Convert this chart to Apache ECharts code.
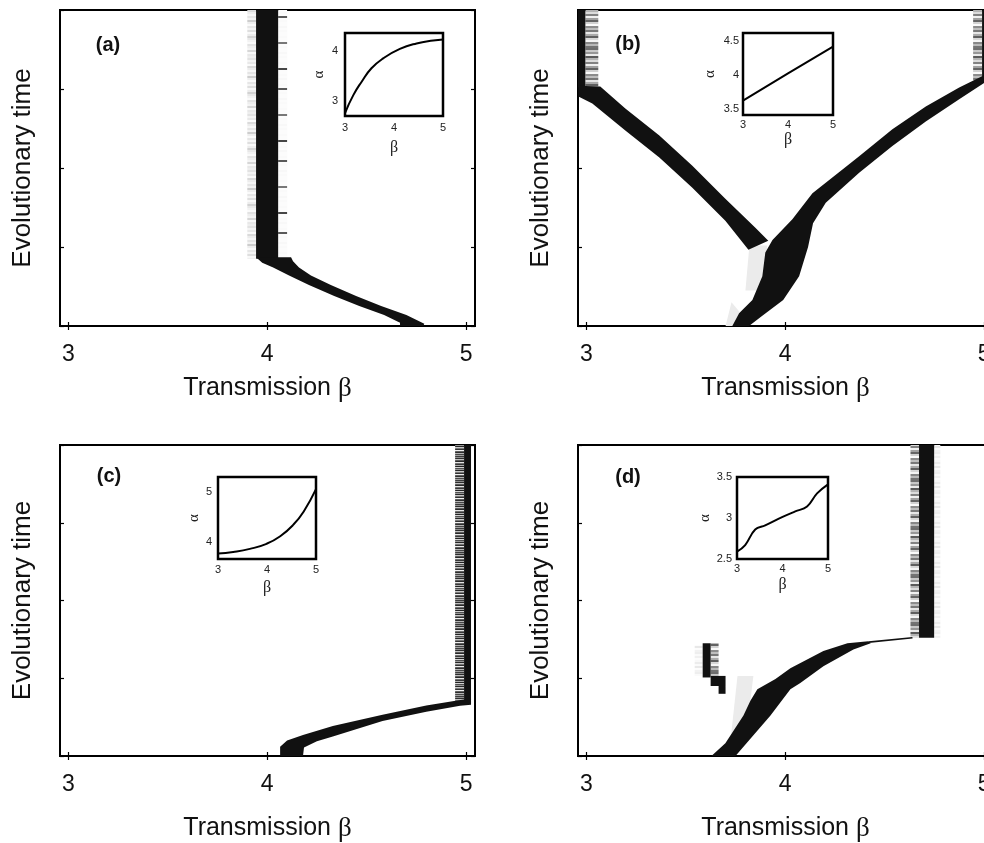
<!DOCTYPE html>
<html><head><meta charset="utf-8">
<script src="https://cdn.jsdelivr.net/npm/echarts@6/dist/echarts.min.js"></script>
<style>html,body{margin:0;padding:0;background:#fff;overflow:hidden}#c{width:1000px;height:843px}</style>
</head><body><div id="c"></div>
<script>
// ================= DATA =================
const xTicks = [3, 4, 5];
const panelLabels = ['(a)', '(b)', '(c)', '(d)'];

// Rects: [betaLeft, betaRight, tStart, tEnd]; fringes add a shade kind
// Panel (a)
const aBlackRects = [[3.944, 4.055, 0.85, 4]];
const aFringes = [[3.90, 3.944, 0.85, 4, 'light'], [4.055, 4.10, 0.85, 4, 'sparse']];
const aBlackPolys = [[[3.944,0.87],[3.975,0.80],[4.03,0.74],[4.11,0.64],[4.21,0.52],[4.337,0.38],[4.463,0.254],[4.588,0.14],[4.668,0.04],[4.668,0],[4.785,0],[4.79,0.03],[4.70,0.14],[4.573,0.254],[4.447,0.38],[4.32,0.52],[4.22,0.64],[4.16,0.74],[4.13,0.82],[4.12,0.87]]];
const aGrayPolys = [];
const aLinks = [];

// Panel (b)
const bBlackRects = [[2.955, 2.995, 3.02, 4], [4.99, 5.05, 3.10, 4]];
const bFringes = [[2.995, 3.06, 3.02, 4, 'medium'], [4.945, 4.99, 3.10, 4, 'medium']];
const bBlackPolys = [
  [[2.96,3.04],[3.07,3.033],[3.196,2.754],[3.367,2.411],[3.533,2.03],[3.699,1.612],[3.85,1.244],[3.915,1.079],[3.815,0.964],[3.699,1.332],[3.533,1.751],[3.367,2.132],[3.196,2.475],[3.03,2.817],[2.96,2.906]],
  [[3.734,0],[3.818,0],[3.88,0.12],[3.99,0.33],[4.07,0.63],[4.115,1.0],[4.14,1.3],[4.204,1.56],[4.372,1.94],[4.539,2.28],[4.707,2.59],[4.875,2.87],[5.002,3.08],[5.05,3.12],[5.05,3.22],[4.99,3.16],[4.875,3.02],[4.707,2.78],[4.539,2.49],[4.372,2.15],[4.288,1.98],[4.137,1.68],[4.036,1.35],[3.936,1.09],[3.90,0.93],[3.885,0.63],[3.835,0.33],[3.768,0.16]]
];
const bGrayPolys = [[[3.80,0.45],[3.89,0.45],[3.91,1.02],[3.82,1.02]], [[3.70,0],[3.74,0],[3.77,0.18],[3.73,0.3]]];
const bLinks = [];

// Panel (c)
const cBlackRects = [[4.99, 5.025, 0.71, 4]];
const cFringes = [[4.945, 4.99, 0.71, 4, 'dense']];
const cBlackPolys = [[[5.025,0.74],[4.955,0.715],[4.80,0.65],[4.58,0.53],[4.33,0.385],[4.18,0.27],[4.10,0.20],[4.065,0.12],[4.065,0],[4.18,0],[4.185,0.11],[4.25,0.19],[4.33,0.25],[4.58,0.45],[4.80,0.57],[4.97,0.645],[5.025,0.66]]];
const cGrayPolys = [];
const cLinks = [];

// Panel (d)
const dBlackRects = [[4.673, 4.749, 1.52, 4], [3.585, 3.625, 1.01, 1.45], [3.625, 3.70, 0.90, 1.03], [3.665, 3.70, 0.80, 0.90]];
const dFringes = [[4.63, 4.673, 1.52, 4, 'medium'], [4.749, 4.78, 1.52, 4, 'faint'], [3.625, 3.665, 1.03, 1.45, 'medium'], [3.545, 3.585, 1.03, 1.42, 'faint']];
const dBlackPolys = [[[3.629,0],[3.699,0.165],[3.79,0.52],[3.825,0.71],[3.86,0.86],[3.951,0.99],[4.026,1.13],[4.192,1.35],[4.313,1.45],[4.418,1.475],[4.43,1.45],[4.343,1.37],[4.192,1.155],[4.076,0.94],[4.026,0.86],[3.926,0.52],[3.75,0]]];
const dGrayPolys = [[[3.725,0.2],[3.80,0.2],[3.84,1.03],[3.76,1.03]]];
const dLinks = [[4.42, 1.465, 4.64, 1.52]];

// Insets: alpha(beta)
const insetABeta = [3, 3.17, 3.34, 3.54, 3.78, 4.12, 4.46, 4.80, 5];
const insetAAlpha = [2.76, 3.12, 3.39, 3.66, 3.86, 4.05, 4.16, 4.22, 4.24];
const insetBBeta = [3, 4, 5];
const insetBAlpha = [3.62, 4.02, 4.41];
const insetCBeta = [3, 3.31, 3.65, 3.99, 4.27, 4.54, 4.75, 5];
const insetCAlpha = [3.78, 3.81, 3.87, 3.97, 4.12, 4.35, 4.61, 5.05];
const insetDBeta = [3, 3.18, 3.40, 3.62, 3.99, 4.28, 4.54, 4.76, 5];
const insetDAlpha = [2.59, 2.67, 2.86, 2.91, 3.01, 3.08, 3.14, 3.30, 3.41];
const insetYTicks = [[3, 4], [3.5, 4, 4.5], [4, 5], [2.5, 3, 3.5]];
const insetYRange = [[2.7, 4.37], [3.41, 4.61], [3.67, 5.29], [2.5, 3.5]];

// ================= STYLE / LAYOUT =================
const FONT = '"Liberation Sans", Arial, Helvetica, sans-serif';
const SERIF = '"Liberation Serif", "Times New Roman", serif';
const mainPos = [[60, 10], [578, 10], [60, 445], [578, 445]];
const insetPos = [[345, 33, 98, 83], [743, 33, 90, 82], [218, 477, 98, 82], [737, 477, 91, 82]];
const insetLab = [
  {xm: 6, xg: 24, ym: 7, yg: 18},
  {xm: 4, xg: 17, ym: 4, yg: 25},
  {xm: 5, xg: 21, ym: 6, yg: 13},
  {xm: 4, xg: 18, ym: 5, yg: 21}
];
const labelPos = [[108, 45], [628, 44], [109, 476], [628, 477]];

function makePattern(rows, rh) {
  const c = document.createElement('canvas');
  c.width = 8; c.height = rows.length * rh;
  const g = c.getContext('2d');
  rows.forEach((v, i) => { g.fillStyle = 'rgb(' + v + ',' + v + ',' + v + ')'; g.fillRect(0, i * rh, 8, rh); });
  return {image: c, repeat: 'repeat'};
}
const patterns = {
  light: makePattern([238,226,244,232,250,218,236,246,228,242,205,238,250,230,244,222,248,236,210,232,242,250,226,238,244,214,248,232], 2),
  sparse: makePattern([252,250,252,248,252,252,250,252,90,252,250,252,252,248,252,250,252,252,250,252,252,120,252,250,252,252,248,252,250,252,252,250,252,252,70,252], 2),
  medium: makePattern([110,200,150,235,90,180,220,130,240,160,100,210,250,140,190,120,230,170,95,215,245,135,185,115], 2),
  dense: makePattern([60,140,45,190,90,40,230,110,55,170,35,210,80,150,40,200,120,50,240,95,45,180,70,160], 1),
  faint: makePattern([248,236,250,232,252,242,238,250,240,252], 2)
};

const panels = [
  {rects: aBlackRects, fringes: aFringes, polys: aBlackPolys, gray: aGrayPolys, links: aLinks},
  {rects: bBlackRects, fringes: bFringes, polys: bBlackPolys, gray: bGrayPolys, links: bLinks},
  {rects: cBlackRects, fringes: cFringes, polys: cBlackPolys, gray: cGrayPolys, links: cLinks},
  {rects: dBlackRects, fringes: dFringes, polys: dBlackPolys, gray: dGrayPolys, links: dLinks}
];
const insets = [
  [insetABeta, insetAAlpha, true], [insetBBeta, insetBAlpha, false],
  [insetCBeta, insetCAlpha, true], [insetDBeta, insetDAlpha, 0.4]
];

const grids = [], xAxes = [], yAxes = [], series = [];

mainPos.forEach((p, i) => {
  grids.push({left: p[0], top: p[1], width: 415, height: 316, show: true, borderColor: '#000', borderWidth: 2, backgroundColor: 'transparent'});
});
insetPos.forEach((p) => {
  grids.push({left: p[0], top: p[1], width: p[2], height: p[3], show: true, borderColor: '#000', borderWidth: 2.5, backgroundColor: '#fff'});
});

const tickStyle = {color: '#000', width: 1.2};
for (let i = 0; i < 4; i++) {
  const top = i < 2;
  xAxes.push({gridIndex: i, type: 'value', min: 2.958, max: 5.045, position: 'bottom',
    axisLine: {show: false}, splitLine: {show: false},
    axisTick: {show: true, inside: true, length: 4, customValues: xTicks, lineStyle: tickStyle},
    axisLabel: {customValues: xTicks, margin: top ? 17 : 17, fontSize: 23, color: '#111', fontFamily: FONT},
    name: 'Transmission {b|β}', nameLocation: 'middle', nameGap: top ? 49 : 59,
    nameTextStyle: {fontSize: 25, color: '#111', fontFamily: FONT,
      rich: {b: {fontSize: 27, fontFamily: SERIF, color: '#111'}}}});
}
for (let i = 0; i < 4; i++) {
  xAxes.push({gridIndex: i, type: 'value', min: 2.958, max: 5.045, position: 'top',
    axisLine: {show: false}, splitLine: {show: false},
    axisTick: {show: true, inside: true, length: 4, customValues: xTicks, lineStyle: tickStyle},
    axisLabel: {show: false}});
}
for (let i = 0; i < 4; i++) {
  const L = insetLab[i];
  xAxes.push({gridIndex: 4 + i, type: 'value', min: 3, max: 5, interval: 1,
    axisLine: {show: false}, splitLine: {show: false}, axisTick: {show: false},
    axisLabel: {margin: L.xm, fontSize: 11, color: '#222', fontFamily: FONT},
    name: 'β', nameLocation: 'middle', nameGap: L.xg,
    nameTextStyle: {fontSize: 16, color: '#222', fontFamily: SERIF}});
}
for (let i = 0; i < 4; i++) {
  yAxes.push({gridIndex: i, type: 'value', min: 0, max: 4, interval: 1, position: 'left',
    axisLine: {show: false}, splitLine: {show: false},
    axisTick: {show: true, inside: true, length: 4, lineStyle: tickStyle},
    axisLabel: {show: false},
    name: 'Evolutionary time', nameLocation: 'middle', nameGap: 24, nameRotate: 90,
    nameTextStyle: {fontSize: 26, color: '#111', fontFamily: FONT}});
}
for (let i = 0; i < 4; i++) {
  yAxes.push({gridIndex: i, type: 'value', min: 0, max: 4, interval: 1, position: 'right',
    axisLine: {show: false}, splitLine: {show: false},
    axisTick: {show: true, inside: true, length: 4, lineStyle: tickStyle},
    axisLabel: {show: false}});
}
for (let i = 0; i < 4; i++) {
  const L = insetLab[i];
  yAxes.push({gridIndex: 4 + i, type: 'value', min: insetYRange[i][0], max: insetYRange[i][1],
    axisLine: {show: false}, splitLine: {show: false}, axisTick: {show: false},
    axisLabel: {customValues: insetYTicks[i], margin: L.ym, fontSize: 11, color: '#222', fontFamily: FONT},
    name: 'α', nameLocation: 'middle', nameGap: L.yg, nameRotate: 90,
    nameTextStyle: {fontSize: 15, color: '#222', fontFamily: SERIF}});
}

function polySeries(i, polys, fill, z) {
  return {type: 'custom', xAxisIndex: i, yAxisIndex: i, clip: true, silent: true, z: z,
    data: polys.map((p, k) => [p[0][0], p[0][1], k]),
    renderItem: (params, api) => {
      const poly = polys[params.dataIndex];
      return {type: 'polygon', shape: {points: poly.map(v => api.coord(v))}, style: {fill: fill, stroke: null}};
    }};
}
function rectSeries(i, rects, fillFn, z) {
  return {type: 'custom', xAxisIndex: i, yAxisIndex: i, clip: true, silent: true, z: z,
    data: rects.map(r => [r[0], r[2], r[1], r[3]]),
    renderItem: (params, api) => {
      const p0 = api.coord([api.value(0), api.value(3)]);
      const p1 = api.coord([api.value(2), api.value(1)]);
      return {type: 'rect', shape: {x: p0[0], y: p0[1], width: p1[0] - p0[0], height: p1[1] - p0[1]},
        style: {fill: fillFn(params.dataIndex), stroke: null}};
    }};
}
function linkSeries(i, links, z) {
  return {type: 'custom', xAxisIndex: i, yAxisIndex: i, clip: true, silent: true, z: z,
    data: links.map(l => l.slice()),
    renderItem: (params, api) => {
      const a = api.coord([api.value(0), api.value(1)]);
      const b = api.coord([api.value(2), api.value(3)]);
      return {type: 'line', shape: {x1: a[0], y1: a[1], x2: b[0], y2: b[1]}, style: {stroke: '#111', lineWidth: 1.6}};
    }};
}

panels.forEach((P, i) => {
  if (P.gray.length) series.push(polySeries(i, P.gray, '#ebebeb', 2));
  series.push(rectSeries(i, P.fringes, k => patterns[P.fringes[k][4]], 3));
  series.push(rectSeries(i, P.rects, () => '#111', 4));
  series.push(polySeries(i, P.polys, '#111', 4));
  if (P.links.length) series.push(linkSeries(i, P.links, 4));
});
insets.forEach((ins, i) => {
  series.push({type: 'line', xAxisIndex: 8 + i, yAxisIndex: 8 + i, silent: true,
    data: ins[0].map((b, k) => [b, ins[1][k]]), smooth: ins[2], showSymbol: false, symbol: 'none',
    lineStyle: {color: '#000', width: 2}, z: 6});
});

const graphic = labelPos.map((p, i) => ({type: 'text', x: p[0], y: p[1], z: 10,
  style: {text: panelLabels[i], font: 'bold 20px ' + FONT, fill: '#111',
    textAlign: 'center', textVerticalAlign: 'middle', align: 'center', verticalAlign: 'middle'}}));

const chart = echarts.init(document.getElementById('c'), null, {renderer: 'canvas'});
chart.setOption({animation: false, backgroundColor: '#fff', grid: grids, xAxis: xAxes, yAxis: yAxes, series: series, graphic: graphic});
</script>
</body></html>
